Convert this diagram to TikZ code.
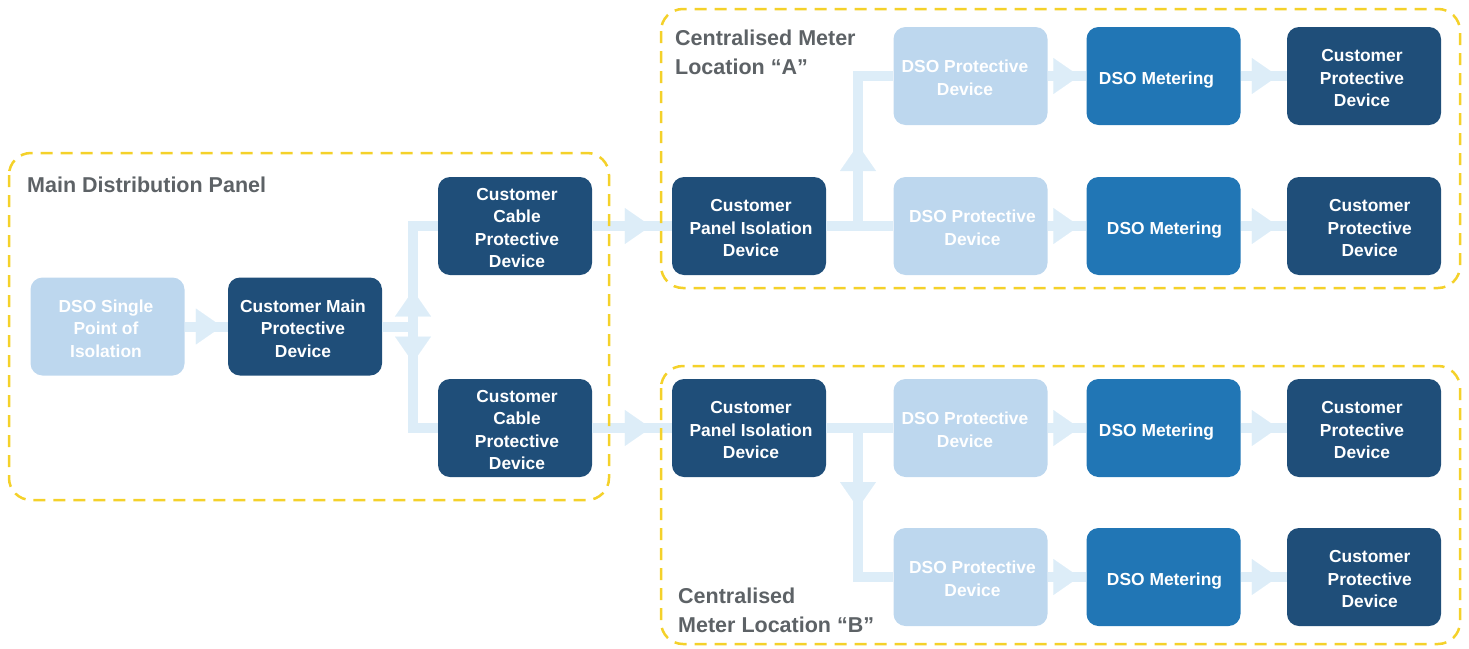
\documentclass[tikz,border=0pt]{standalone}
\usepackage{fontspec}
\setmainfont{Liberation Sans}
\usetikzlibrary{arrows.meta,decorations.markings}
\definecolor{darkb}{HTML}{1F4E79}
\definecolor{medb}{HTML}{2176B5}
\definecolor{lightb}{HTML}{BDD7EE}
\definecolor{arrowc}{HTML}{DDEDF8}
\definecolor{yel}{HTML}{F4D12A}
\definecolor{titleg}{HTML}{5D6266}
% box text: #1 = horizontal offset, #2 = lines
\newcommand\boxtxt[2]{\hspace*{#1}\raisebox{-3.5pt}[\height][\depth]{\begin{tabular}{@{}c@{}}#2\end{tabular}}\hspace*{-#1}}
\tikzset{
  box/.style={rounded corners=12pt, minimum width=154pt, minimum height=98pt, inner sep=0pt,
    text=white, font=\fontsize{17.4}{22.5}\selectfont\bfseries},
  darkbox/.style={box, fill=darkb},
  medbox/.style={box, fill=medb},
  lightbox/.style={box, fill=lightb},
  flow/.style={draw, color=arrowc, line width=10pt, line join=miter},
  tipat/.style={postaction={decorate, decoration={markings,
    mark=at position #1 with {\arrow[color=arrowc]{Triangle[length=26pt,width=36pt,line width=0.1pt]}}}}},
  region/.style={draw=yel, line width=2.5pt, dash pattern=on 12pt off 8pt, rounded corners=22pt},
  title/.style={text=titleg, font=\fontsize{21.5}{29}\selectfont\bfseries, inner sep=0pt, anchor=base west}
}
\begin{document}
\begin{tikzpicture}[x=1pt,y=-1pt]
\useasboundingbox (0,0) rectangle (1469,648);
% boxes
\node[lightbox] (spi) at (107.5,326.5) {\boxtxt{-1.5pt}{DSO Single\\Point of\\Isolation}};
\node[darkbox] (cmpd) at (305,326.5) {\boxtxt{-2pt}{Customer Main\\Protective\\Device}};
\node[darkbox] (ccpd1) at (515,226) {\boxtxt{2pt}{Customer\\Cable\\Protective\\Device}};
\node[darkbox] (ccpd2) at (515,428) {\boxtxt{2pt}{Customer\\Cable\\Protective\\Device}};
\node[darkbox] (cpidA) at (749,226) {\boxtxt{2pt}{Customer\\Panel Isolation\\Device}};
\node[lightbox] (pdA1) at (970.5,76) {\boxtxt{-5.5pt}{DSO Protective\\Device}};
\node[lightbox] (pdA2) at (970.5,226) {\boxtxt{2pt}{DSO Protective\\Device}};
\node[medbox] (mA1) at (1163.5,76) {\boxtxt{-7pt}{DSO Metering}};
\node[medbox] (mA2) at (1163.5,226) {\boxtxt{1pt}{DSO Metering}};
\node[darkbox] (cpdA1) at (1364,76) {\boxtxt{-2pt}{Customer\\Protective\\Device}};
\node[darkbox] (cpdA2) at (1364,226) {\boxtxt{5.7pt}{Customer\\Protective\\Device}};
\node[darkbox] (cpidB) at (749,428) {\boxtxt{2pt}{Customer\\Panel Isolation\\Device}};
\node[lightbox] (pdB1) at (970.5,428) {\boxtxt{-5.5pt}{DSO Protective\\Device}};
\node[lightbox] (pdB2) at (970.5,577) {\boxtxt{2pt}{DSO Protective\\Device}};
\node[medbox] (mB1) at (1163.5,428) {\boxtxt{-7pt}{DSO Metering}};
\node[medbox] (mB2) at (1163.5,577) {\boxtxt{1pt}{DSO Metering}};
\node[darkbox] (cpdB1) at (1364,428) {\boxtxt{-2pt}{Customer\\Protective\\Device}};
\node[darkbox] (cpdB2) at (1364,577) {\boxtxt{5.7pt}{Customer\\Protective\\Device}};
% junctions
\coordinate (j0) at (413,326.5);
\coordinate (jA) at (858,226);
\coordinate (jB) at (858,428);
% connectors
\draw[flow,tipat=-6pt] (spi) -- (cmpd);
\draw[flow] (cmpd.east) -- (j0);
\draw[flow,tipat=36pt] (j0) |- (ccpd1.west);
\draw[flow,tipat=36pt] (j0) |- (ccpd2.west);
\draw[flow,tipat=-21pt] (ccpd1) -- (cpidA);
\draw[flow,tipat=-21pt] (ccpd2) -- (cpidB);
\draw[flow] (cpidA) -- (pdA2);
\draw[flow,tipat=81pt] (jA) |- (pdA1.west);
\draw[flow] (cpidB) -- (pdB1);
\draw[flow,tipat=80pt] (jB) |- (pdB2.west);
\draw[flow,tipat=-7pt] (pdA1) -- (mA1);
\draw[flow,tipat=-7pt] (pdA2) -- (mA2);
\draw[flow,tipat=-7pt] (pdB1) -- (mB1);
\draw[flow,tipat=-7pt] (pdB2) -- (mB2);
\draw[flow,tipat=-9pt] (mA1) -- (cpdA1);
\draw[flow,tipat=-9pt] (mA2) -- (cpdA2);
\draw[flow,tipat=-9pt] (mB1) -- (cpdB1);
\draw[flow,tipat=-9pt] (mB2) -- (cpdB2);
% regions
\draw[region] (9,153) rectangle (609,500);
\draw[region] (661,9) rectangle (1460,288);
\draw[region] (661,366) rectangle (1460,644);
% titles
\node[title] (tMain) at (27,192) {Main Distribution Panel};
\node[title] (tA1) at (675,45) {Centralised Meter};
\node[title] (tA2) at (675,74) {Location “A”};
\node[title] (tB1) at (678,603) {Centralised};
\node[title] (tB2) at (678,632) {Meter Location “B”};
\end{tikzpicture}
\end{document}
